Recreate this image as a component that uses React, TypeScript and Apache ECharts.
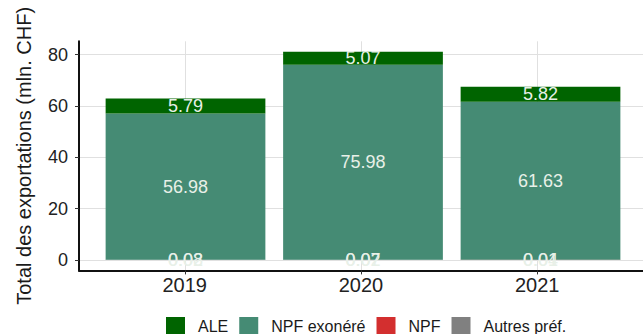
import React, { useEffect, useRef } from "react";
import * as echarts from "echarts";

const years = ["2019", "2020", "2021"];
const xPos = [1, 2, 3];
const autres = [0.08, 0.07, 0.04];
const npf = [0.02, 0.02, 0.01];
const npfExo = [56.98, 75.98, 61.63];
const ale = [5.79, 5.07, 5.82];
const yTicks = [0, 20, 40, 60, 80];
const legendOrder = ["ALE", "NPF exonéré", "NPF", "Autres préf."];

const FONT = "Liberation Sans, Arial, sans-serif";

export default function App() {
  const ref = useRef<HTMLDivElement>(null);
  useEffect(() => {
    if (!ref.current) return;
    const chart = echarts.init(ref.current, undefined, { renderer: "svg" });
    const total = xPos.map((_, i) => autres[i] + npf[i] + npfExo[i] + ale[i]);
    const maxT = Math.max(...total);
    const yMin = -0.05 * maxT;
    const yMax = 1.05 * maxT;
    // panel geometry (ggplot-like discrete expansion of 0.6 on each side)
    const panelLeft = 79;
    const panelRight = 647;
    const unit = (panelRight - panelLeft) / 3.2;
    const top = 41.3;
    const bottom = 63.6;
    const mk = (name: string, vals: number[], color: string) => ({
      name,
      type: "bar",
      stack: "total",
      xAxisIndex: 1,
      yAxisIndex: 1,
      barWidth: "90%",
      itemStyle: { color },
      data: vals,
      label: {
        show: true,
        position: "inside",
        color: "#e8f0e8",
        fontSize: 18,
        fontFamily: FONT,
        formatter: (p: any) => Number(p.value).toFixed(2),
      },
    });
    chart.setOption({
      animation: false,
      textStyle: { fontFamily: FONT },
      legend: {
        data: legendOrder,
        left: 166,
        top: 317,
        padding: 0,
        itemGap: 11,
        itemWidth: 19,
        itemHeight: 19,
        icon: "rect",
        textStyle: { fontSize: 16, fontFamily: FONT, color: "#1a1a1a", padding: [0, 0, 0, 8] },
      },
      grid: [
        { left: panelLeft, right: 643 - panelRight, top, bottom },
        { left: panelLeft + 0.1 * unit, width: 3 * unit, top, bottom },
      ],
      xAxis: [
        {
          type: "value",
          gridIndex: 0,
          min: 0.4,
          max: 3.6,
          axisLine: { show: true, onZero: false, lineStyle: { color: "#111", width: 2 } },
          axisTick: { show: true, length: 4, customValues: xPos, lineStyle: { color: "#333" } },
          axisLabel: {
            customValues: xPos,
            fontSize: 20,
            color: "#222",
            fontFamily: FONT,
            margin: 5,
            formatter: (v: number) => {
              const i = xPos.indexOf(Math.round(v * 1000) / 1000);
              return i >= 0 ? years[i] : "";
            },
          },
          splitLine: { show: true, lineStyle: { color: "#e0e0e0", width: 1 } },
        },
        {
          type: "category",
          gridIndex: 1,
          data: years,
          show: false,
        },
      ],
      yAxis: [
        {
          type: "value",
          gridIndex: 0,
          min: yMin,
          max: yMax,
          name: "Total des exportations (mln. CHF)",
          nameLocation: "middle",
          nameGap: 45,
          nameTextStyle: { fontSize: 20, color: "#1a1a1a", fontFamily: FONT },
          axisLine: { show: true, onZero: false, lineStyle: { color: "#111", width: 2 } },
          axisTick: { show: true, length: 4, customValues: yTicks, lineStyle: { color: "#333" } },
          axisLabel: {
            customValues: yTicks,
            fontSize: 18,
            color: "#222",
            fontFamily: FONT,
            margin: 11,
            formatter: (v: number) => (yTicks.includes(v) ? String(v) : ""),
          },
          splitLine: { show: true, lineStyle: { color: "#e0e0e0", width: 1 } },
        },
        {
          type: "value",
          gridIndex: 1,
          min: yMin,
          max: yMax,
          show: false,
          splitLine: { show: false },
        },
      ],
      series: [
        mk("Autres préf.", autres, "#808080"),
        mk("NPF", npf, "#D32F2F"),
        mk("NPF exonéré", npfExo, "#458B74"),
        mk("ALE", ale, "#006400"),
      ],
    });
    return () => chart.dispose();
  }, []);
  return (
    <div
      ref={ref}
      style={{ position: "fixed", left: 0, top: 0, width: 643, height: 334, background: "#fff" }}
    />
  );
}
